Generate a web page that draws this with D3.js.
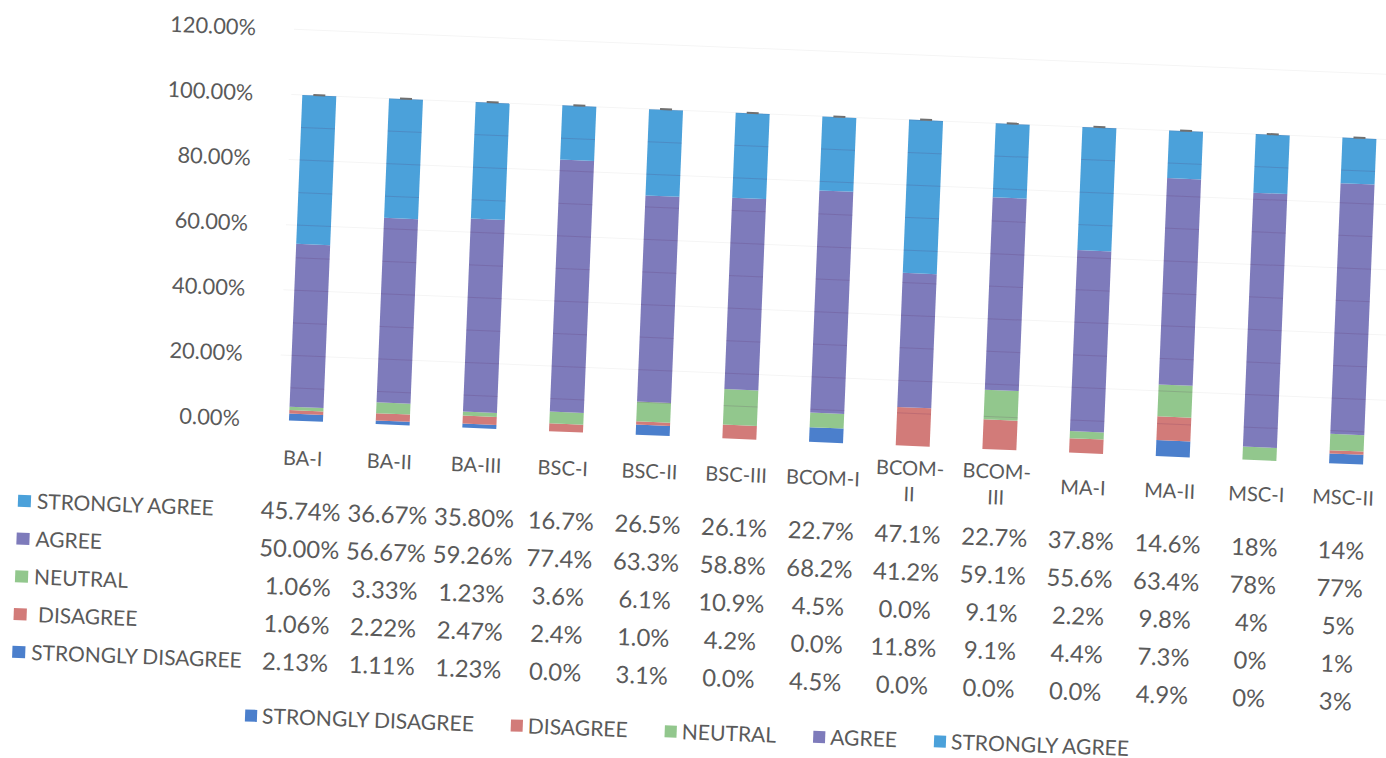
<!DOCTYPE html>
<html><head><meta charset="utf-8">
<script src="https://cdn.jsdelivr.net/npm/d3@7"></script>
<style>
html,body{margin:0;padding:0;background:#fff;}
svg{display:block;}
text{font-family:Lato,"Open Sans",sans-serif;fill:#5a5a5a;white-space:pre;}
</style></head><body>
<svg id="chart" width="1386" height="758"></svg>
<script>
// ---------- data ----------
const categories = ["BA-I","BA-II","BA-III","BSC-I","BSC-II","BSC-III","BCOM-I","BCOM-II","BCOM-III","MA-I","MA-II","MSC-I","MSC-II"];
const stronglyAgree    = ["45.74%","36.67%","35.80%","16.7%","26.5%","26.1%","22.7%","47.1%","22.7%","37.8%","14.6%","18%","14%"];
const agree            = ["50.00%","56.67%","59.26%","77.4%","63.3%","58.8%","68.2%","41.2%","59.1%","55.6%","63.4%","78%","77%"];
const neutral          = ["1.06%","3.33%","1.23%","3.6%","6.1%","10.9%","4.5%","0.0%","9.1%","2.2%","9.8%","4%","5%"];
const disagree         = ["1.06%","2.22%","2.47%","2.4%","1.0%","4.2%","0.0%","11.8%","9.1%","4.4%","7.3%","0%","1%"];
const stronglyDisagree = ["2.13%","1.11%","1.23%","0.0%","3.1%","0.0%","4.5%","0.0%","0.0%","0.0%","4.9%","0%","3%"];
const seriesKeys  = ["STRONGLY DISAGREE","DISAGREE","NEUTRAL","AGREE","STRONGLY AGREE"];
const seriesText  = [stronglyDisagree, disagree, neutral, agree, stronglyAgree];
const tableOrder  = ["STRONGLY AGREE","AGREE","NEUTRAL","DISAGREE","STRONGLY DISAGREE"];
const tableLabels = ["STRONGLY AGREE","AGREE","NEUTRAL"," DISAGREE","STRONGLY DISAGREE"];
const yTicks = [0,0.2,0.4,0.6,0.8,1.0,1.2];
const colors = {"STRONGLY DISAGREE":"#4b7fcc","DISAGREE":"#d27b79","NEUTRAL":"#92c78d","AGREE":"#7e7bbb","STRONGLY AGREE":"#4ba1da"};

// ---------- setup ----------
const svg = d3.select("#chart");
const textOf = {};
seriesKeys.forEach((k,i)=>textOf[k]=seriesText[i]);
const rows = categories.map((c,i)=>{
  const r = {cat:c};
  seriesKeys.forEach(k=>{ r[k] = parseFloat(textOf[k][i])/100; });
  return r;
});
const stack = d3.stack().keys(seriesKeys)(rows);
const totals = rows.map(r=>d3.sum(seriesKeys,k=>r[k]));

function fit(sample, target){
  const t = svg.append("text").style("font-size","100px").text(sample);
  const w = t.node().getComputedTextLength(); t.remove();
  return 100*target/w;
}
const fsAxis   = fit("120.00%", 86);
const fsHead   = fit("BCOM-I", 74);
const fsVal    = fit("45.74%", 80);
const fsRow    = fit("STRONGLY AGREE", 177);
const fsLegend = fit("STRONGLY DISAGREE", 212);

const x = d3.scalePoint().domain(categories).range([308,1349]);
const y = d3.scaleLinear().domain([0,1.2]).range([437,46]);
const barW = 34;

// ---------- plot (rotated like the scan) ----------
const plot = svg.append("g").attr("transform","rotate(2.35,693,379)");

// very faint gridlines on the background
plot.append("g").selectAll("line").data(yTicks.filter(v=>v>0)).join("line")
  .attr("x1",280).attr("x2",1400)
  .attr("y1",d=>y(d)).attr("y2",d=>y(d))
  .attr("stroke","#f5f5f5").attr("stroke-width",1);

plot.append("g").selectAll("g").data(stack).join("g")
  .attr("fill",d=>colors[d.key])
  .selectAll("rect").data(d=>d).join("rect")
  .attr("x",d=>x(d.data.cat)-barW/2)
  .attr("width",barW)
  .attr("y",d=>y(d[1]))
  .attr("height",d=>Math.max(0,y(d[0])-y(d[1])));

// faint lines showing through the bars
const clip = plot.append("clipPath").attr("id","barsClip");
clip.selectAll("rect").data(categories).join("rect")
  .attr("x",d=>x(d)-barW/2).attr("width",barW)
  .attr("y",(d,i)=>y(totals[i])).attr("height",(d,i)=>y(0)-y(totals[i]));
plot.append("g").attr("clip-path","url(#barsClip)")
  .selectAll("line").data(y.ticks(12).filter(v=>v>0)).join("line")
  .attr("x1",280).attr("x2",1400)
  .attr("y1",d=>y(d)).attr("y2",d=>y(d))
  .attr("stroke","rgba(90,30,90,0.16)").attr("stroke-width",1);

// tiny caps on bar tops
plot.append("g").selectAll("rect").data(categories).join("rect")
  .attr("x",d=>x(d)-6).attr("width",12)
  .attr("y",(d,i)=>y(totals[i])-1.5).attr("height",2)
  .attr("fill","#707070");

// y axis
const yAxis = d3.axisLeft(y).tickValues(yTicks).tickFormat(d3.format(".2%")).tickSize(0).tickPadding(0);
const ax = plot.append("g").attr("transform","translate(242,0)").call(yAxis);
ax.select(".domain").remove();
ax.selectAll("text").style("font-size",fsAxis+"px").attr("fill","#5a5a5a")
  .style("font-family","Lato,'Open Sans',sans-serif");

// ---------- data table + legend ----------
const table = svg.append("g").attr("transform","rotate(2.15,693,379)");
const headY = 473, rowY0 = 526, rowStep = 37.8;

// category headers (long BCOM labels wrap after the hyphen)
const heads = table.append("g").selectAll("text").data(categories).join("text")
  .attr("x",d=>x(d)-2).attr("text-anchor","middle")
  .style("font-size",fsHead+"px");
heads.each(function(d){
  const cut = d.indexOf("-")+1;
  const parts = (d.startsWith("BCOM-") && d.length>6) ? [d.slice(0,cut), d.slice(cut)] : [d];
  const t = d3.select(this);
  const start = headY - (parts.length-1)*13;
  parts.forEach((p,j)=>{
    t.append("tspan").attr("x",x(d)-2).attr("y",start+j*26).attr("dy","0.35em").text(p);
  });
});

// row labels with swatches
const rowG = table.append("g").selectAll("g").data(tableOrder).join("g")
  .attr("transform",(d,i)=>`translate(0,${rowY0+i*rowStep})`);
rowG.append("rect").attr("x",23).attr("y",-6).attr("width",13).attr("height",12)
  .attr("fill",d=>colors[d]);
rowG.append("text").attr("x",42).attr("dy","0.35em")
  .style("font-size",fsRow+"px").text((d,i)=>tableLabels[i]);

// values
rowG.each(function(key){
  d3.select(this).selectAll("text.v").data(textOf[key]).join("text")
    .attr("class","v")
    .attr("x",(d,i)=>x(categories[i])-2).attr("text-anchor","middle").attr("dy","0.35em")
    .style("font-size",fsVal+"px").text(d=>d);
});

// bottom legend
const legY = 732;
const leg = table.append("g");
let lx = 258;
seriesKeys.forEach(k=>{
  leg.append("rect").attr("x",lx).attr("y",legY-6).attr("width",12).attr("height",12).attr("fill",colors[k]);
  const t = leg.append("text").attr("x",lx+17).attr("y",legY).attr("dy","0.35em")
    .style("font-size",fsLegend+"px").text(k);
  lx += 17 + t.node().getComputedTextLength() + 37;
});
</script>
</body></html>
